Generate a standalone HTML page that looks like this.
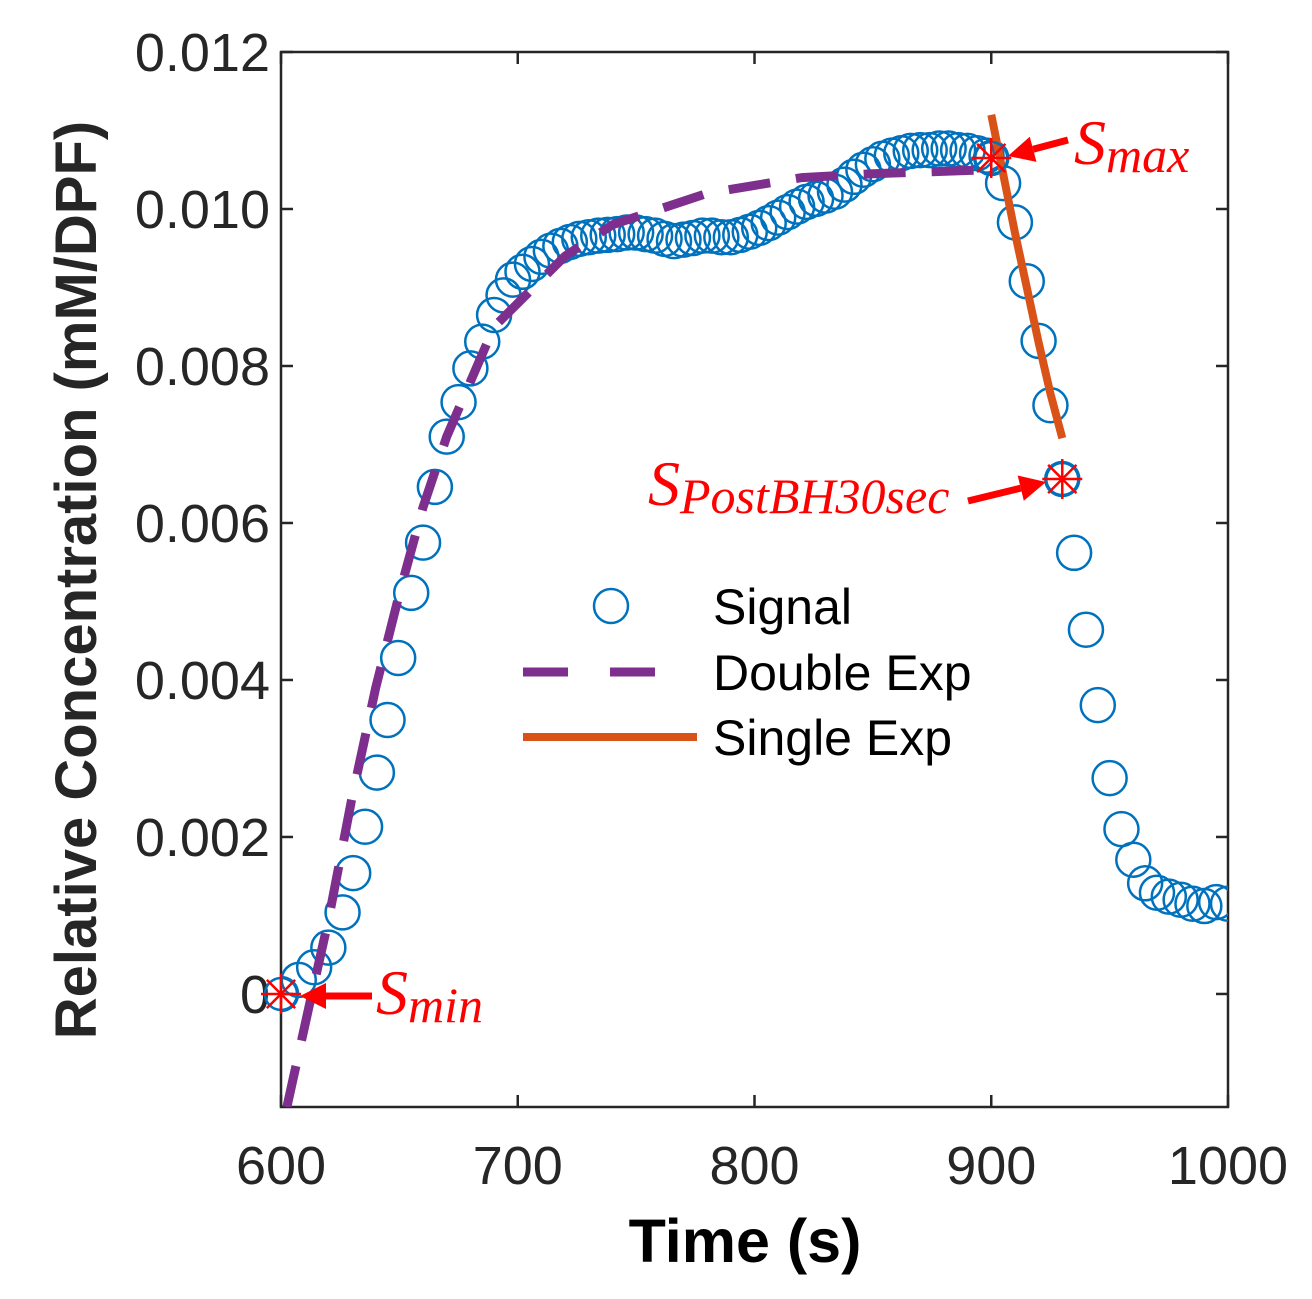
<!DOCTYPE html>
<html><head><meta charset="utf-8"><style>
html,body{margin:0;padding:0;background:#fff;}
svg{display:block;font-family:"Liberation Sans",sans-serif;}
</style></head><body>
<svg id="chart" width="1312" height="1299" viewBox="0 0 1312 1299" xmlns="http://www.w3.org/2000/svg">
<defs><clipPath id="plotclip"><rect x="281" y="52" width="947" height="1055"/></clipPath></defs>
<g id="axes"></g>
<g id="series" clip-path="url(#plotclip)"></g>
<g id="annot"></g>
<g id="legend"></g>
</svg>
<script>
const signalTimes = [600,607.5,614,620,626,630.5,635.5,640.5,645,649.5,655,660,665,670,675,680,685,690,694,698,702,706,710,714,718,722,726,730,734,738,742,746,750,754,758,762,766,770,774,778,782,786,790,794,798,802,806,810,814,818,822,826,830,834,838,842,846,850,854,858,862,866,870,874,878,882,886,890,894,898,900,905,910,915,920,925,930,935,940,945,950,955,960,965,970,975,980,985,990,995,1000];
const signalValues = [0,0.00018,0.00034,0.00059,0.00104,0.00154,0.00213,0.00282,0.00349,0.00428,0.00511,0.00575,0.00646,0.0071,0.00754,0.00797,0.00831,0.00865,0.0089,0.0091,0.0092,0.0093,0.00939,0.00947,0.00953,0.00958,0.00962,0.00964,0.00966,0.00967,0.00968,0.0097,0.0097,0.00968,0.00966,0.00962,0.00959,0.00961,0.00963,0.00966,0.00966,0.00964,0.00964,0.00967,0.00971,0.00976,0.00982,0.00989,0.00996,0.01003,0.01009,0.01013,0.01017,0.01022,0.01031,0.01041,0.0105,0.01057,0.01064,0.01068,0.01071,0.01074,0.01075,0.01075,0.01077,0.01077,0.01075,0.01074,0.01071,0.01068,0.01065,0.01033,0.00983,0.00908,0.00832,0.0075,0.00656,0.00562,0.00464,0.00368,0.00275,0.0021,0.00171,0.00141,0.00129,0.00124,0.0012,0.00115,0.00112,0.00117,0.00115];
const doubleTimes = [602.5,613,620,630,640,650,660,670,680,690,700,720,740,760,780,800,820,850,900];
const doubleValues = [-0.00144,0,0.00094,0.0025,0.0039,0.0051,0.0062,0.0071,0.0078,0.0085,0.0088,0.0094,0.0098,0.0100,0.0102,0.0103,0.0104,0.01045,0.0105];
const singleTimes = [900,905,910,915,920,925,930];
const singleValues = [0.0112,0.01045,0.0097,0.009,0.0083,0.00765,0.00708];
const xTicks = [600,700,800,900,1000];
const xTickLabels = ["600","700","800","900","1000"];
const yTicks = [0,0.002,0.004,0.006,0.008,0.010,0.012];
const yTickLabels = ["0","0.002","0.004","0.006","0.008","0.010","0.012"];
const markTimes = [600,900,930];
const markValues = [0,0.01065,0.00656];

const X0=281,X1=1228,Y0=1107,Y1=52;
const xMin=600,xMax=1000,yMin=-0.00144,yMax=0.012;
const xs=t=>X0+(t-xMin)/(xMax-xMin)*(X1-X0);
const ys=v=>Y0-(v-yMin)/(yMax-yMin)*(Y0-Y1);
const NS="http://www.w3.org/2000/svg";
function mk(tag,attrs,parent,text){const e=document.createElementNS(NS,tag);for(const k in attrs)e.setAttribute(k,attrs[k]);if(text!==undefined)e.textContent=text;parent.appendChild(e);return e;}
const axes=document.getElementById('axes'),series=document.getElementById('series'),annot=document.getElementById('annot'),legend=document.getElementById('legend');

let box=mk('rect',{x:X0,y:Y1,width:X1-X0,height:Y0-Y1,fill:'none',stroke:'#262626','stroke-width':2.5},axes);


xTicks.forEach((t,i)=>{
  const x=xs(t);
  let l=mk('line',{x1:x,y1:Y0,x2:x,y2:Y0-12,stroke:'#262626','stroke-width':2.5},axes);
  
  
  let l2=mk('line',{x1:x,y1:Y1,x2:x,y2:Y1+12,stroke:'#262626','stroke-width':2.5},axes);
  
  
  let tx=mk('text',{x:x,y:1184,'font-size':54,'text-anchor':'middle',fill:'#262626'},axes,xTickLabels[i]);
  
  
});
yTicks.forEach((v,i)=>{
  const y=ys(v);
  let l=mk('line',{x1:X0,y1:y,x2:X0+12,y2:y,stroke:'#262626','stroke-width':2.5},axes);
  
  
  let l2=mk('line',{x1:X1,y1:y,x2:X1-12,y2:y,stroke:'#262626','stroke-width':2.5},axes);
  
  
  let tx=mk('text',{x:270,y:y+19,'font-size':54,'text-anchor':'end',fill:'#262626'},axes,yTickLabels[i]);
  
  
});
let xt=mk('text',{x:745,y:1262,'font-size':61,'font-weight':'bold','text-anchor':'middle',fill:'#000'},axes,'Time (s)');


let yt=mk('text',{x:0,y:0,'font-size':58,'font-weight':'bold','text-anchor':'middle',fill:'#262626',transform:'translate(96,580) rotate(-90)'},axes,'Relative Concentration (mM/DPF)');



function pathFrom(ts,vs){return ts.map((t,i)=>(i?'L':'M')+xs(t).toFixed(1)+','+ys(vs[i]).toFixed(1)).join(' ');}
signalTimes.forEach((t,i)=>{
  let c=mk('circle',{cx:xs(t),cy:ys(signalValues[i]),r:17,fill:'none',stroke:'#0072bd','stroke-width':2.5},series);
  
  
});
let dp=mk('path',{d:pathFrom(doubleTimes,doubleValues),fill:'none',stroke:'#7e2f8e','stroke-width':9,'stroke-dasharray':'42 26'},series);


let sp=mk('path',{d:pathFrom(singleTimes,singleValues),fill:'none',stroke:'#d95319','stroke-width':8},series);



function star(cx,cy,name){
  const g=mk('g',{},annot);
  
  
  mk('circle',{cx,cy,r:16,fill:'none',stroke:'#0072bd','stroke-width':2.5},g);
  for(let k=0;k<4;k++){const a=k*Math.PI/4;mk('line',{x1:cx-20*Math.cos(a),y1:cy-20*Math.sin(a),x2:cx+20*Math.cos(a),y2:cy+20*Math.sin(a),stroke:'#ff0000','stroke-width':2.5},g);}
}
function arrow(x1,y1,x2,y2,name){
  const g=mk('g',{},annot);
  
  
  const a=Math.atan2(y2-y1,x2-x1),L=26,W=13;
  const bx=x2-L*Math.cos(a),by=y2-L*Math.sin(a);
  mk('line',{x1,y1,x2:bx,y2:by,stroke:'#ff0000','stroke-width':7},g);
  mk('polygon',{points:`${x2},${y2} ${bx-W*Math.sin(a)},${by+W*Math.cos(a)} ${bx+W*Math.sin(a)},${by-W*Math.cos(a)}`,fill:'#ff0000'},g);
}
const names=['s-min-marker','s-max-marker','s-post-marker'];
markTimes.forEach((t,i)=>star(xs(t),ys(markValues[i]),names[i]));
arrow(372,996,300,996,'s-min-arrow');
arrow(1068,140,1008,156,'s-max-arrow');
arrow(968,501,1046,482,'s-post-arrow');
const lab=(x,y,main,sub,name)=>{
  const t=mk('text',{x,y,fill:'#ff0000','font-family':'"Liberation Serif",serif','font-style':'italic','font-size':64},annot);
  
  
  mk('tspan',{},t,main);
  mk('tspan',{'font-size':50,dy:8},t,sub);
};
lab(376,1014,'S','min','s-min-label');
lab(1074,164,'S','max','s-max-label');
lab(648,505,'S','PostBH30sec','s-post-label');

let lc=mk('circle',{cx:611,cy:606,r:17,fill:'none',stroke:'#0072bd','stroke-width':2.5},legend);


let ld=mk('line',{x1:523,y1:672,x2:660,y2:672,stroke:'#7e2f8e','stroke-width':9,'stroke-dasharray':'45 42'},legend);


let ls=mk('line',{x1:523,y1:737,x2:697,y2:737,stroke:'#d95319','stroke-width':8},legend);


[['Signal',624],['Double Exp',690],['Single Exp',755]].forEach(([s,y])=>{
  let t=mk('text',{x:713,y:y,'font-size':50,fill:'#000'},legend,s);
  
  
});
</script>
</body></html>
